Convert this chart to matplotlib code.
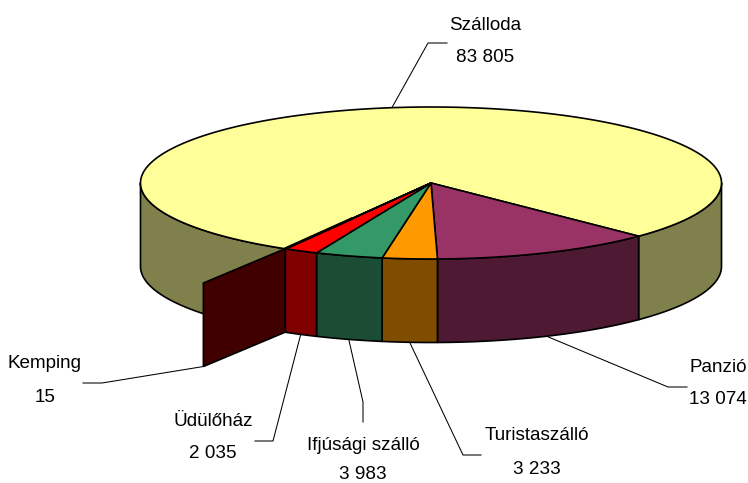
import numpy as np
import matplotlib
matplotlib.use("Agg")
import matplotlib.pyplot as plt

categories = ["Szálloda", "Panzió", "Turistaszálló", "Ifjúsági szálló", "Üdülőház", "Kemping"]
values = [83805, 13074, 3233, 3983, 2035, 15]
value_labels = ["83 805", "13 074", "3 233", "3 983", "2 035", "15"]
top_colors = ["#FFFF99", "#993366", "#FF9900", "#339966", "#FF0000", "#800000"]
side_colors = ["#80804C", "#4D1933", "#804D00", "#1A4D33", "#800000", "#400000"]

CX, CY, RX, RY, DEPTH = 431, 183, 290.5, 76, 83.5
FIRST_SLICE_THETA = 329.85   # angle from the front, positive toward the right
KEMPING_REACH = 1.56
KEMPING_LIFT = 2.5
EDGE = "black"

# label centres (x, y line 1, y line 2) and leader bends
label_pos = [(485, 25, 57), (718, 368, 400), (537, 436, 469),
             (363, 445, 474.5), (213, 421, 454), (45, 363, 397)]
leader_bends = [[(428, 43), (447, 43)], [(668, 387), (687, 387)], [(463, 455), (481, 455)],
                [(363, 402), (363, 422)], [(273, 441), (255, 441)], [(102, 383), (83, 383)]]

plt.rcParams["font.family"] = ["Liberation Sans", "DejaVu Sans"]
fig = plt.figure(figsize=(7.48, 4.83), dpi=100)
ax = fig.add_axes([0, 0, 1, 1])
ax.set_xlim(0, 748)
ax.set_ylim(483, 0)
ax.axis("off")


def rim(theta, dz=0.0, k=1.0):
    t = np.radians(theta)
    return CX + k * RX * np.sin(t), CY + dz + k * RY * np.cos(t)


vals = np.array(values, dtype=float)
sweep = vals / vals.sum() * 360
starts = FIRST_SLICE_THETA - np.concatenate([[0], np.cumsum(sweep)[:-1]])
ends = starts - sweep

# visible walls (front half only, theta in -90..90 modulo 360)
for i in range(len(vals)):
    for shift in (0, -360):
        hi = min(starts[i] + shift, 90)
        lo = max(ends[i] + shift, -90)
        if hi <= lo or i == 5:
            continue
        th = np.linspace(hi, lo, 80)
        x, y = rim(th)
        x2, y2 = rim(th[::-1], DEPTH)
        ax.fill(np.r_[x, x2], np.r_[y, y2], fc=side_colors[i], ec=EDGE, lw=1.2, zorder=2,
                joinstyle="round")

# Kemping: the thin slice shows as a wall running out from the rim
kx1, ky1 = rim(ends[5])
kx2, ky2 = rim(ends[5], 0, KEMPING_REACH)
ky2 -= KEMPING_LIFT
ax.fill([kx1, kx2, kx2, kx1], [ky1, ky2, ky2 + DEPTH, ky1 + DEPTH],
        fc=side_colors[5], ec=EDGE, lw=1.2, zorder=3)

# top faces
for i in range(len(vals)):
    th = np.linspace(starts[i], ends[i], max(int(sweep[i] * 3), 4))
    x, y = rim(th)
    ax.fill(np.r_[CX, x], np.r_[CY, y], fc=top_colors[i], ec=EDGE, lw=1.2, zorder=4,
            joinstyle="round")

ix, iy = rim(ends[5], 0, 0.54)
ax.plot([ix, kx1], [iy, ky1], color=EDGE, lw=2, zorder=5, solid_capstyle="round")

# labels and leader lines
for i, name in enumerate(categories):
    mid = (starts[i] + ends[i]) / 2
    if i == 0:
        ax_x, ax_y = rim(mid)
    elif i == 5:
        ax_x, ax_y = kx2, ky2 + DEPTH
    else:
        ax_x, ax_y = rim(mid, DEPTH)
    pts = [(ax_x, ax_y)] + leader_bends[i]
    ax.plot(*zip(*pts), color="black", lw=0.75, zorder=1 if i != 0 else 3)
    lx, ly1, ly2 = label_pos[i]
    ax.text(lx, ly1, name, ha="center", va="center", fontsize=13.6, color="black")
    ax.text(lx, ly2, value_labels[i], ha="center", va="center", fontsize=13.6, color="black")

fig.savefig("out.png", dpi=100, facecolor="white")
